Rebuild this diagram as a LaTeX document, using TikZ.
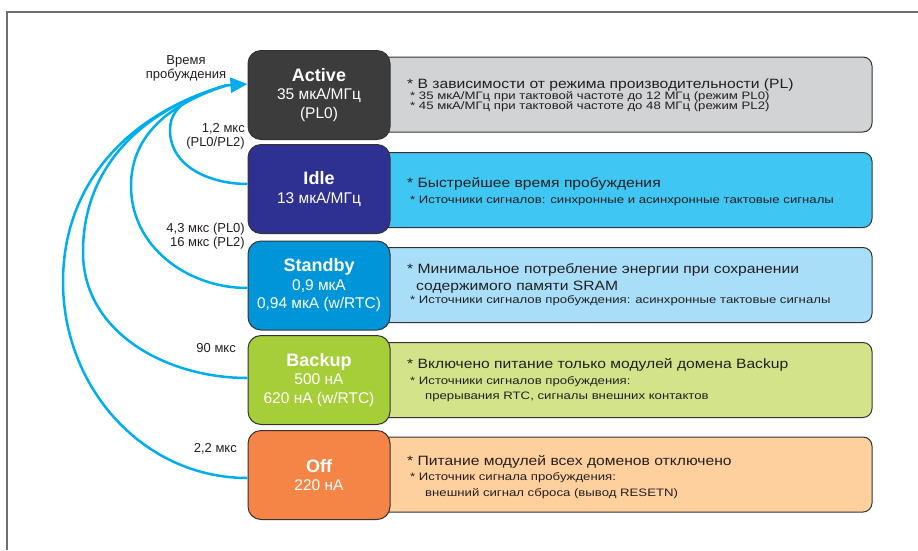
\documentclass[tikz,border=0pt]{standalone}
\usepackage{fontspec}
\setmainfont{Liberation Sans}
\newfontfamily\descmainfont[FakeStretch=1.16]{Liberation Sans}
\newfontfamily\descsubfont[FakeStretch=1.22]{Liberation Sans}
\usetikzlibrary{arrows.meta}
\definecolor{activeC}{HTML}{3C3C3C}
\definecolor{activeD}{HTML}{D1D3D4}
\definecolor{idleC}{HTML}{2E3192}
\definecolor{idleD}{HTML}{3FC6F2}
\definecolor{standbyC}{HTML}{0095D9}
\definecolor{standbyD}{HTML}{A8DEF8}
\definecolor{backupC}{HTML}{A6CE39}
\definecolor{backupD}{HTML}{D3E38A}
\definecolor{offC}{HTML}{F58546}
\definecolor{offD}{HTML}{FDD09E}
\definecolor{arrowC}{HTML}{00AEEF}
\definecolor{edgeC}{HTML}{333333}
\definecolor{txtC}{HTML}{231F20}
\definecolor{frameC}{HTML}{6D6E71}
\tikzset{
  statebox/.style={draw=edgeC, line width=1pt, rounded corners=13pt, minimum width=142pt,
    minimum height=89pt, text=white, align=center, inner sep=0pt,
    font=\fontsize{15.5}{18.5}\selectfont},
  descbox/.style={draw=edgeC, line width=1pt, rounded corners=9pt, minimum width=502pt,
    minimum height=75pt, inner sep=0pt},
  maintxt/.style={anchor=base west, font=\descmainfont\fontsize{13.5}{16}\selectfont, text=txtC, inner sep=0pt},
  subtxt/.style={anchor=base west, font=\descsubfont\fontsize{10.8}{12}\selectfont, text=txtC, inner sep=0pt},
  lbl/.style={font=\fontsize{13}{14}\selectfont, text=txtC, inner sep=0pt},
  wake/.style={draw=arrowC, line width=2.5pt},
}
\newcommand{\ttl}[1]{{\fontsize{18}{18.5}\selectfont\bfseries #1}}
\begin{document}
\begin{tikzpicture}[x=1pt,y=1pt]
\useasboundingbox (0,0) rectangle (918,-550);
\draw[frameC, line width=1.3pt] (7,-550) -- (7,-12) -- (918,-12);

% description boxes
\node[descbox, fill=activeD]  (dA) at (621,-94.5) {};
\node[descbox, fill=idleD]    (dI) at (621,-190) {};
\node[descbox, fill=standbyD] (dS) at (621,-285) {};
\node[descbox, fill=backupD]  (dB) at (621,-380) {};
\node[descbox, fill=offD]     (dO) at (621,-474.5) {};

% state boxes
\node[statebox, fill=activeC]  (active)  at (319,-95)    {\ttl{Active}\\35 мкА/МГц\\(PL0)};
\node[statebox, fill=idleC]    (idle)    at (319,-189)   {\ttl{Idle}\\13 мкА/МГц};
\node[statebox, fill=standbyC] (standby) at (319,-285.5) {\ttl{Standby}\\0,9 мкА\\0,94 мкА (w/RTC)};
\node[statebox, fill=backupC]  (backup)  at (319,-380)   {\ttl{Backup}\\500 нА\\620 нА (w/RTC)};
\node[statebox, fill=offC]     (off)     at (319,-475)   {\ttl{Off}\\220 нА};

% description texts
\node[maintxt] (tA1) at (407,-88)  {* В зависимости от режима производительности (PL)};
\node[subtxt]  (tA2) at (410,-99)  {* 35 мкА/МГц при тактовой частоте до 12 МГц (режим PL0)};
\node[subtxt]  (tA3) at (410,-109.5) {* 45 мкА/МГц при тактовой частоте до 48 МГц (режим PL2)};

\node[maintxt] (tI1) at (407,-187) {* Быстрейшее время пробуждения};
\node[subtxt]  (tI2) at (410,-203) {* Источники сигналов: синхронные и асинхронные тактовые сигналы};

\node[maintxt] (tS1) at (407,-273) {* Минимальное потребление энергии при сохранении};
\node[maintxt] (tS2) at (416,-290) {содержимого памяти SRAM};
\node[subtxt]  (tS3) at (410,-303) {* Источники сигналов пробуждения: асинхронные тактовые сигналы};

\node[maintxt] (tB1) at (407,-368) {* Включено питание только модулей домена Backup};
\node[subtxt]  (tB2) at (410,-384) {* Источники сигналов пробуждения:};
\node[subtxt]  (tB3) at (425,-399) {прерывания RTC, сигналы внешних контактов};

\node[maintxt] (tO1) at (407,-465) {* Питание модулей всех доменов отключено};
\node[subtxt]  (tO2) at (410,-480) {* Источник сигнала пробуждения:};
\node[subtxt]  (tO3) at (425,-496) {внешний сигнал сброса (вывод RESETN)};

% labels
\node[lbl, align=center] (lW) at (186,-68) {Время\\пробуждения};
\node[lbl, align=right, anchor=east] (l1) at (245,-136) {1,2 мкс\\(PL0/PL2)};
\node[lbl, align=right, anchor=east] (l2) at (245,-236) {4,3 мкс (PL0)\\16 мкс (PL2)};
\node[lbl, anchor=east] (l3) at (236,-348) {90 мкс};
\node[lbl, anchor=east] (l4) at (237,-449) {2,2 мкс};

% wake-up arrows
\coordinate (tipbase) at (226,-85.5);
\coordinate (p1) at (170,-130);
\coordinate (p2) at (131,-186);
\coordinate (p3) at (83,-252);
\coordinate (p4) at (63,-282);
\draw[wake] ([yshift=5pt]idle.west) to[out=180,in=-90] (p1) to[out=90,in=198] (tipbase);
\draw[wake] ([yshift=-2.5pt]standby.west) to[out=180,in=-90] (p2) to[out=90,in=198] (tipbase);
\draw[wake] ([yshift=2pt]backup.west) to[out=180,in=-90] (p3) to[out=90,in=196] (tipbase);
\draw[wake] ([yshift=-3pt]off.west) to[out=180,in=-90] (p4) to[out=90,in=196] (tipbase);
\draw[wake, -{Triangle[length=17pt,width=15pt]}] (tipbase) -- ([yshift=11pt]active.west);
\end{tikzpicture}
\end{document}
